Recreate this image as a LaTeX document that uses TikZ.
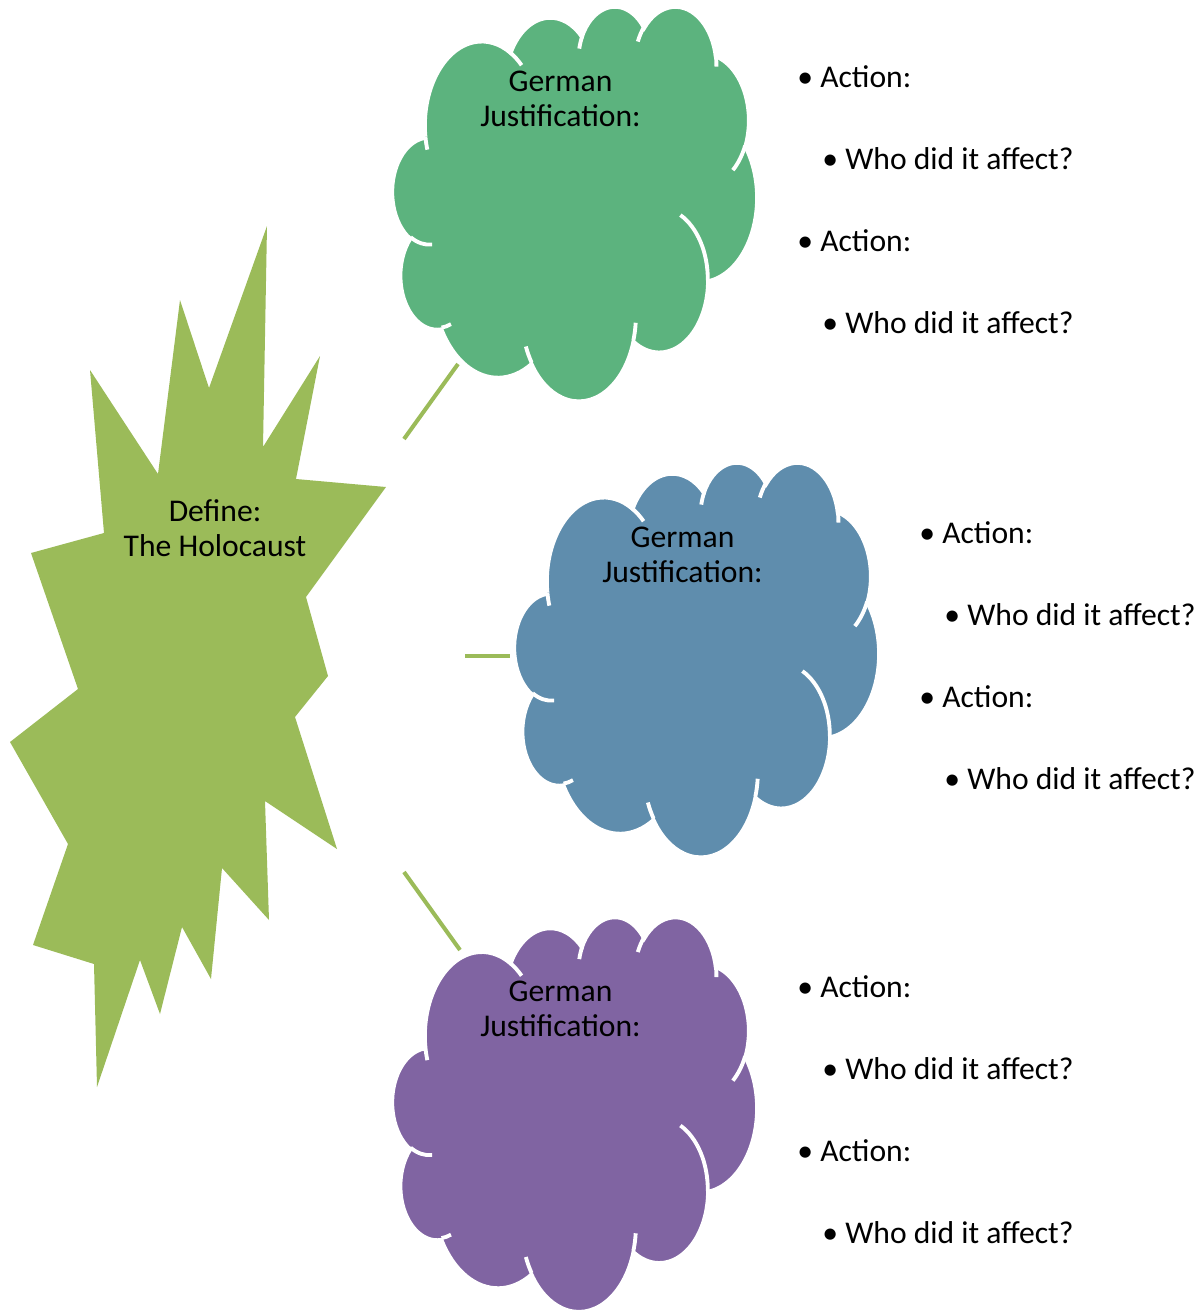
\documentclass[tikz,border=0pt]{standalone}
\usepackage{fontspec}
\setmainfont{Carlito}
\usepackage{xcolor}
\usepackage{tikz}
\definecolor{burst}{RGB}{155,187,89}
\definecolor{cloudgreen}{RGB}{92,179,126}
\definecolor{cloudblue}{RGB}{95,141,173}
\definecolor{cloudpurple}{RGB}{128,100,162}

\begin{document}
\begin{tikzpicture}[x=0.02cm,y=-0.02cm]
    \tikzstyle{blobtext} = [font=\fontsize{18}{20}\selectfont, inner sep=0pt, align=center]
    \tikzstyle{listline} = [font=\fontsize{18}{20}\selectfont, inner sep=0pt, anchor=base west]
    \tikzstyle{link} = [burst, line width=2.3pt]
    \tikzstyle{gap} = [white, line width=2.2pt]
    \useasboundingbox (0,0) rectangle (1199,1312);
    \fill[burst] (267,226) -- (263,447) -- (320,356) -- (296,479) -- (386,487) -- (306,597)
      -- (328,676) -- (295,717) -- (337,849) -- (265,801) -- (269,920) -- (222,868)
      -- (211,979) -- (182,927) -- (160,1014) -- (140,960) -- (97,1087) -- (94,964)
      -- (33,945) -- (68,844) -- (10,742) -- (78,689) -- (31,553) -- (104,533)
      -- (90,370) -- (158,474) -- (180,300) -- (209,388) -- cycle;
    \node[blobtext] (define) at (215,528) {Define:\\The Holocaust};
    \foreach \dx/\dy/\col/\nm in {392.5/5.5/cloudgreen/justA, 514.5/461.5/cloudblue/justB, 392.5/916/cloudpurple/justC}
    {
      \begin{scope}[shift={(\dx,\dy)},x=0.16875cm,y=-0.18264cm]
        \filldraw[fill=\col,draw=white,line width=2.2pt] (3.9,14.37)
          \foreach \ra/\rb/\sa/\sw in {6.753/9.190/-190.4875/123.7805, 5.333/7.267/-144.1024/89.9452,
            4.365/5.945/-145.8079/99.7230, 4.857/6.595/-130.9861/117.2417, 5.333/7.273/-78.7089/109.0269,
            6.775/9.220/-46.2673/130.2690, 5.785/7.867/0.6250/114.0333, 6.752/9.215/22.4516/115.1726,
            7.720/10.543/66.2426/75.7110, 4.360/5.918/-274.9421/146.7356, 4.345/5.945/-246.8285/152.5189}
          {
            arc[x radius=\ra, y radius=\rb, start angle={atan2(\ra*sin(\sa),\rb*cos(\sa))},
              delta angle={mod(atan2(\ra*sin(\sa+\sw),\rb*cos(\sa+\sw))-atan2(\ra*sin(\sa),\rb*cos(\sa))+720,360)}]
          };
        \foreach \px/\py/\ra/\rb/\sa/\sw in {4.693/26.177/4.345/5.945/86.742/26.4295, 6.928/34.899/4.360/5.918/73.6105/11.4475,
          16.478/39.090/6.752/9.215/137.6242/14.0811, 28.827/34.751/6.752/9.215/6.4533/15.9984,
          34.129/22.954/5.785/7.867/-70.2924/70.9174, 41.798/15.354/5.333/7.273/30.318/27.7515,
          38.324/5.426/4.857/6.595/-13.7443/14.8589, 29.078/3.952/4.857/6.595/-149.1815/18.1954,
          22.141/4.720/4.365/5.945/-163.4943/17.6864, 14.000/5.192/6.753/9.190/-66.7070/12.3194,
          4.127/15.789/6.753/9.190/157.6544/11.8582}
        {
          \draw[gap] (\px,\py) arc[x radius=\ra, y radius=\rb, start angle={atan2(\ra*sin(\sa),\rb*cos(\sa))},
            delta angle={mod(atan2(\ra*sin(\sa+\sw),\rb*cos(\sa+\sw))-atan2(\ra*sin(\sa),\rb*cos(\sa))+720,360)}];
        }
      \end{scope}
      \node[blobtext] (\nm) at (\dx+168,\dy+93) {German\\Justification:};
    }
    \coordinate (a1) at (404,439);
    \coordinate (b1) at (458,364);
    \coordinate (a2) at (465,656);
    \coordinate (b2) at (510,656);
    \coordinate (a3) at (404,872);
    \coordinate (b3) at (460,950);
    \foreach \i in {1,2,3}
      \draw[link] (a\i) -- (b\i);
    \foreach \gx/\gy/\g in {797/87/A, 919/543/B, 797/997/C}
    {
      \node[listline] (act1\g) at (\gx,\gy) {• Action:};
      \node[listline] (who1\g) at (\gx+25,\gy+82) {• Who did it affect?};
      \node[listline] (act2\g) at (\gx,\gy+164) {• Action:};
      \node[listline] (who2\g) at (\gx+25,\gy+246) {• Who did it affect?};
    }
\end{tikzpicture}
\end{document}
